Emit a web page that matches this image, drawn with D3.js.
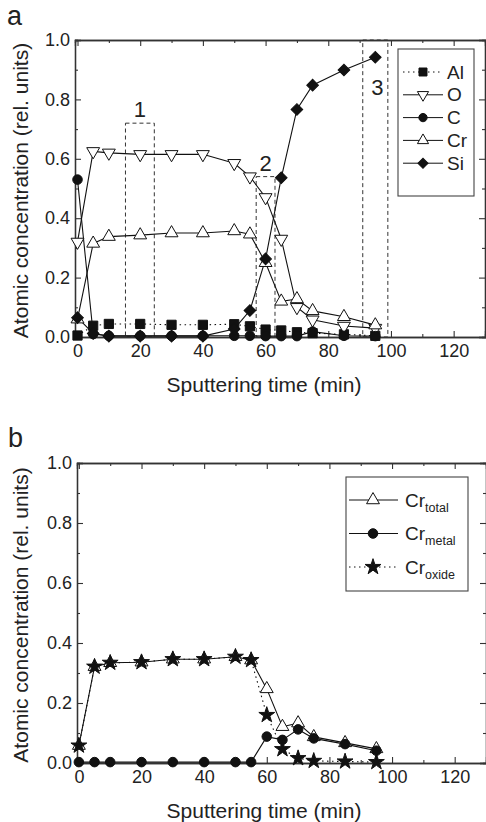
<!DOCTYPE html>
<html>
<head>
<meta charset="utf-8">
<script src="https://cdn.jsdelivr.net/npm/d3@7"></script>
<style>
body { margin: 0; background: #fff; }
svg text { font-family: "Liberation Sans", Arial, sans-serif; fill: #222; }
</style>
</head>
<body>
<script>
// sputtering times (min), shared by every series
var times = [0, 5, 10, 20, 30, 40, 50, 55, 60, 65, 70, 75, 85, 95];

// panel a: atomic concentrations
var alVals = [0.005, 0.038, 0.044, 0.044, 0.041, 0.041, 0.043, 0.036, 0.025, 0.022, 0.016, 0.013, 0.009, 0.004];
var oVals  = [0.32, 0.625, 0.62, 0.615, 0.615, 0.615, 0.585, 0.54, 0.47, 0.33, 0.10, 0.058, 0.037, 0.03];
var cVals  = [0.53, 0.01, 0.004, 0.004, 0.004, 0.004, 0.004, 0.004, 0.003, 0.003, 0.003, 0.018, 0.004, 0.003];
var crVals = [0.06, 0.315, 0.338, 0.343, 0.35, 0.35, 0.357, 0.346, 0.25, 0.12, 0.128, 0.088, 0.068, 0.04];
var siVals = [0.065, 0.012, 0.003, 0.003, 0.003, 0.003, 0.027, 0.089, 0.263, 0.536, 0.766, 0.848, 0.899, 0.942];

// panel b: chromium split
var crTotal = [0.058, 0.321, 0.334, 0.336, 0.346, 0.346, 0.354, 0.343, 0.247, 0.121, 0.133, 0.087, 0.067, 0.047];
var crMetal = [0.003, 0.003, 0.003, 0.003, 0.003, 0.003, 0.003, 0.003, 0.088, 0.077, 0.112, 0.082, 0.063, 0.041];
var crOxide = [0.058, 0.321, 0.334, 0.336, 0.346, 0.346, 0.354, 0.343, 0.16, 0.046, 0.016, 0.007, 0.005, 0.003];

// dashed analysis windows in panel a: [x0, x1, top, label]
var windows = [[15.3, 24.5, 0.72, "1"], [57, 63, 0.54, "2"], [91, 99, 1.0, "3"]];

var xMajor = [0, 20, 40, 60, 80, 100, 120],
    xMinor = [10, 30, 50, 70, 90, 110, 130],
    yMajor = [0, 0.2, 0.4, 0.6, 0.8, 1.0],
    yMinor = [0.1, 0.3, 0.5, 0.7, 0.9];

var width = 486, height = 822;
var svg = d3.select("body").append("svg")
    .attr("width", width)
    .attr("height", height);

var sym = {
  square:  { type: d3.symbolSquare, size: 85, rot: 0, fill: "#111" },
  down:    { type: d3.symbolTriangle, size: 72, rot: 180, fill: "#fff" },
  circle:  { type: d3.symbolCircle, size: 72, rot: 0, fill: "#111" },
  up:      { type: d3.symbolTriangle, size: 72, rot: 0, fill: "#fff" },
  diamond: { type: d3.symbolSquare, size: 68, rot: 45, fill: "#111" },
  star:    { type: d3.symbolStar, size: 78, rot: 0, fill: "#111" }
};

function drawPanel(p) {
  var x = d3.scaleLinear().domain(p.xDomain).range([p.left, p.right]);
  var y = d3.scaleLinear().domain([0, 1]).range([p.bottom, p.top]);
  var g = svg.append("g");

  //inward ticks on all four sides
  g.append("g").attr("transform", "translate(0," + p.bottom + ")")
    .call(d3.axisBottom(x).tickValues(xMajor).tickSize(-6).tickPadding(7).tickFormat(d3.format("d")));
  g.append("g").attr("transform", "translate(0," + p.bottom + ")")
    .call(d3.axisBottom(x).tickValues(xMinor.filter(function(d){ return d < p.xDomain[1]; })).tickSize(-3).tickFormat(""));
  g.append("g").attr("transform", "translate(0," + p.top + ")")
    .call(d3.axisTop(x).tickValues(xMajor).tickSize(-6).tickFormat(""));
  g.append("g").attr("transform", "translate(0," + p.top + ")")
    .call(d3.axisTop(x).tickValues(xMinor.filter(function(d){ return d < p.xDomain[1]; })).tickSize(-3).tickFormat(""));
  g.append("g").attr("transform", "translate(" + p.left + ",0)")
    .call(d3.axisLeft(y).tickValues(yMajor).tickSize(-6).tickPadding(5).tickFormat(d3.format(".1f")));
  g.append("g").attr("transform", "translate(" + p.left + ",0)")
    .call(d3.axisLeft(y).tickValues(yMinor).tickSize(-3).tickFormat(""));
  g.append("g").attr("transform", "translate(" + p.right + ",0)")
    .call(d3.axisRight(y).tickValues(yMajor).tickSize(-6).tickFormat(""));
  g.append("g").attr("transform", "translate(" + p.right + ",0)")
    .call(d3.axisRight(y).tickValues(yMinor).tickSize(-3).tickFormat(""));

  g.selectAll(".domain").attr("stroke", "#333").attr("stroke-width", 1.3);
  g.selectAll(".tick line").attr("stroke", "#333").attr("stroke-width", 1.1);
  g.selectAll(".tick text").style("font-size", "18px").attr("fill", "#222");

  //axis titles
  g.append("text")
    .attr("x", 264).attr("y", p.bottom + 55)
    .attr("text-anchor", "middle")
    .style("font-size", "21px")
    .text("Sputtering time (min)");
  g.append("text")
    .attr("transform", "translate(28," + ((p.top + p.bottom) / 2 + 2) + ") rotate(-90)")
    .attr("text-anchor", "middle")
    .style("font-size", "21px")
    .text("Atomic concentration (rel. units)");
  g.append("text")
    .attr("x", p.labelX).attr("y", p.labelY)
    .style("font-size", "27px")
    .text(p.label);

  if (p.windows) {
    p.windows.forEach(function(w) {
      g.append("rect")
        .attr("x", x(w[0])).attr("y", y(w[2]))
        .attr("width", x(w[1]) - x(w[0]))
        .attr("height", y(0) - y(w[2]))
        .attr("fill", "none").attr("stroke", "#333")
        .attr("stroke-width", 1).attr("stroke-dasharray", "4,3");
      g.append("text")
        .attr("x", (x(w[0]) + x(w[1])) / 2 + (w[3] === "3" ? 2 : 0))
        .attr("y", w[3] === "3" ? 95 : y(w[2]) - 6)
        .attr("text-anchor", "middle")
        .style("font-size", "22px")
        .text(w[3]);
    });
  }

  var line = d3.line()
    .x(function(d){ return x(d[0]); })
    .y(function(d){ return y(d[1]); });

  p.series.forEach(function(s) {
    var pts = times.map(function(t, i){ return [t, s.values[i]]; });
    g.append("path")
      .datum(pts)
      .attr("d", line)
      .attr("fill", "none")
      .attr("stroke", "#111")
      .attr("stroke-width", 1.1)
      .attr("stroke-dasharray", s.dotted ? "1.5,3.5" : null);
  });
  p.series.forEach(function(s) {
    var m = sym[s.marker];
    var pts = times.map(function(t, i){ return [t, s.values[i]]; });
    g.selectAll(null)
      .data(pts)
      .enter()
      .append("path")
      .attr("d", d3.symbol().type(m.type).size(m.size))
      .attr("transform", function(d){ return "translate(" + x(d[0]) + "," + y(d[1]) + ") rotate(" + m.rot + ")"; })
      .attr("fill", m.fill)
      .attr("stroke", "#111")
      .attr("stroke-width", 1);
  });

  //legend
  var lg = p.legend;
  g.append("rect")
    .attr("x", lg.x0).attr("y", lg.y0)
    .attr("width", lg.x1 - lg.x0).attr("height", lg.y1 - lg.y0)
    .attr("fill", "#fff").attr("stroke", "#444").attr("stroke-width", 1.1);
  p.series.forEach(function(s, i) {
    var ly = lg.firstY + i * lg.step;
    var m = sym[s.marker];
    g.append("line")
      .attr("x1", lg.lineX0).attr("x2", lg.lineX1)
      .attr("y1", ly).attr("y2", ly)
      .attr("stroke", "#111").attr("stroke-width", 1)
      .attr("stroke-dasharray", s.dotted ? "1.5,3.5" : null);
    g.append("path")
      .attr("d", d3.symbol().type(m.type).size(m.size * lg.symScale))
      .attr("transform", "translate(" + lg.symX + "," + ly + ") rotate(" + m.rot + ")")
      .attr("fill", m.fill).attr("stroke", "#111").attr("stroke-width", 1);
    var t = g.append("text")
      .attr("x", lg.textX).attr("y", ly + 6.5)
      .style("font-size", "19px")
      .text(s.name);
    if (s.sub) {
      t.append("tspan").attr("dy", 5).style("font-size", "12.5px").text(s.sub);
    }
  });
}

drawPanel({
  xDomain: [-0.8, 130], left: 75, right: 485, top: 40, bottom: 337,
  label: "a", labelX: 7, labelY: 25,
  windows: windows,
  series: [
    { name: "Al", values: alVals, marker: "square", dotted: true },
    { name: "O",  values: oVals,  marker: "down" },
    { name: "C",  values: cVals,  marker: "circle" },
    { name: "Cr", values: crVals, marker: "up" },
    { name: "Si", values: siVals, marker: "diamond" }
  ],
  legend: { x0: 398, x1: 474, y0: 49, y1: 196, firstY: 72, step: 22.8,
            lineX0: 403, lineX1: 443, symX: 423, textX: 447, symScale: 0.75 }
});

drawPanel({
  xDomain: [-0.6, 130], left: 77, right: 486, top: 463, bottom: 763,
  label: "b", labelX: 8, labelY: 447,
  series: [
    { name: "Cr", sub: "total", values: crTotal, marker: "up" },
    { name: "Cr", sub: "metal", values: crMetal, marker: "circle" },
    { name: "Cr", sub: "oxide", values: crOxide, marker: "star", dotted: true }
  ],
  legend: { x0: 346, x1: 468, y0: 477, y1: 591, firstY: 500, step: 33.5,
            lineX0: 349, lineX1: 398, symX: 373, textX: 405, symScale: 1 }
});
</script>
</body>
</html>
